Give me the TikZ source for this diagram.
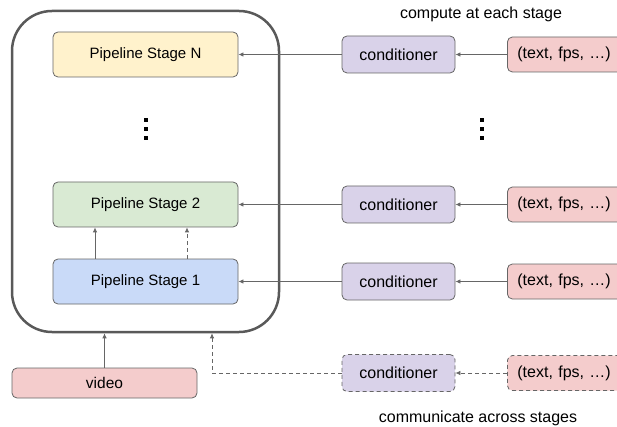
\documentclass[tikz,border=0pt]{standalone}
\usepackage{fontspec}
\setmainfont{Liberation Sans}
\usetikzlibrary{arrows.meta}
\usetikzlibrary{calc}

\definecolor{lineg}{HTML}{666666}
\definecolor{frameg}{HTML}{595959}
\definecolor{stageNc}{HTML}{FFF2CC}
\definecolor{stageTc}{HTML}{D9EAD3}
\definecolor{stageOc}{HTML}{C9DAF8}
\definecolor{condc}{HTML}{D9D2E9}
\definecolor{paramc}{HTML}{F4CCCC}

\tikzset{>={Latex[length=5pt,width=4.5pt]}}
\tikzset{
  box/.style={draw=lineg,line width=0.8pt,rounded corners=5pt,inner sep=0pt},
  stagebox/.style={box,minimum width=185pt,minimum height=45pt,font=\fontsize{15}{18}\selectfont},
  condbox/.style={box,fill=condc,minimum width=113pt,minimum height=37pt,font=\fontsize{16}{19}\selectfont},
  parambox/.style={box,fill=paramc,anchor=west,text width=104pt,inner xsep=10pt,align=left,minimum height=35pt,font=\fontsize{16}{19}\selectfont},
  conn/.style={->,draw=lineg,line width=0.8pt},
  dashconn/.style={conn,dash pattern=on 4pt off 3pt},
  vdot/.style={fill=black}
}

\begin{document}
\begin{tikzpicture}[x=1pt,y=-1pt]
\useasboundingbox (0,0) rectangle (617,427);

% the pipeline
\node[draw=frameg,line width=2.5pt,rounded corners=40pt,minimum width=267pt,minimum height=321pt] (pipe) at (145.5,171.5) {};

\node[stagebox,fill=stageNc] (stageN) at (145.5,54.5) {Pipeline Stage N};
\node[stagebox,fill=stageTc] (stage2) at (145.5,204.5) {Pipeline Stage 2};
\node[stagebox,fill=stageOc] (stage1) at (145.5,281.5) {Pipeline Stage 1};

\foreach \y in {120,129,138.5}{
  \fill[vdot] (144,\y-2) rectangle (148,\y+2);
  \fill[vdot] (480,\y-2) rectangle (484,\y+2);
}

\draw[conn] ([xshift=-50.5pt]stage1.north) -- ([xshift=-50.5pt]stage2.south);
\draw[dashconn] ([xshift=41.5pt]stage1.north) -- ([xshift=41.5pt]stage2.south);

% video input
\node[box,fill=paramc,minimum width=185pt,minimum height=30pt,font=\fontsize{15.5}{18}\selectfont] (video) at (104.5,383) {video};
\draw[conn] (video.north) -- (video.north |- pipe.south);

% conditioners
\node[condbox] (condN) at (398.5,54.5) {conditioner};
\node[condbox] (cond2) at (398.5,204.5) {conditioner};
\node[condbox] (cond1) at (398.5,281.5) {conditioner};
\node[condbox,dash pattern=on 4pt off 3pt] (condD) at (398.5,373) {conditioner};

\node[parambox] (parN) at (507,54.5) {(text, fps, …)};
\node[parambox] (par2) at (507,204.5) {(text, fps, …)};
\node[parambox] (par1) at (507,281.5) {(text, fps, …)};
\node[parambox,dash pattern=on 4pt off 3pt] (parD) at (507,373) {(text, fps, …)};

\draw[conn] (condN.west) -- (stageN.east);
\draw[conn] (cond2.west) -- (stage2.east);
\draw[conn] (cond1.west) -- (stage1.east);
\draw[conn] (parN.west) -- (condN.east);
\draw[conn] (par2.west) -- (cond2.east);
\draw[conn] (par1.west) -- (cond1.east);
\draw[dashconn] (parD.west) -- (condD.east);

\coordinate (comm) at (212,373);
\draw[dashconn] (condD.west) -- (comm) -- (comm |- pipe.south);

% captions
\node[font=\fontsize{16}{19}\selectfont] (topcap) at (481,14) {compute at each stage};
\node[font=\fontsize{16}{19}\selectfont] (botcap) at (478,418) {communicate across stages};

\end{tikzpicture}
\end{document}
